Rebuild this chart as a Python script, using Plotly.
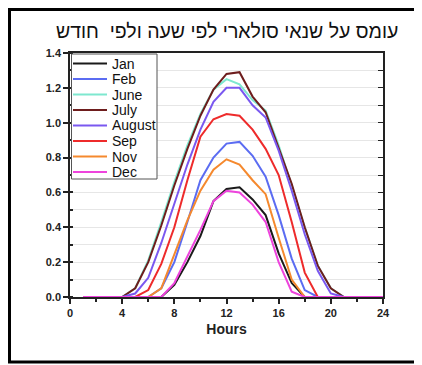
import plotly.graph_objects as go

hours = list(range(1, 25))

jan = [0, 0, 0, 0, 0, 0, 0, 0.07, 0.20, 0.35, 0.55, 0.62, 0.63, 0.56, 0.47, 0.25, 0.08, 0, 0, 0, 0, 0, 0, 0]
feb = [0, 0, 0, 0, 0, 0, 0.05, 0.20, 0.43, 0.67, 0.80, 0.88, 0.89, 0.81, 0.69, 0.47, 0.22, 0.04, 0, 0, 0, 0, 0, 0]
june = [0, 0, 0, 0, 0.05, 0.21, 0.43, 0.66, 0.87, 1.05, 1.19, 1.25, 1.22, 1.13, 1.07, 0.87, 0.64, 0.40, 0.18, 0.05, 0, 0, 0, 0]
july = [0, 0, 0, 0, 0.05, 0.20, 0.41, 0.64, 0.85, 1.04, 1.19, 1.28, 1.29, 1.15, 1.06, 0.86, 0.65, 0.40, 0.18, 0.05, 0, 0, 0, 0]
august = [0, 0, 0, 0, 0.02, 0.11, 0.31, 0.53, 0.76, 0.96, 1.12, 1.20, 1.20, 1.10, 1.03, 0.84, 0.61, 0.36, 0.15, 0.02, 0, 0, 0, 0]
sep = [0, 0, 0, 0, 0, 0.04, 0.19, 0.40, 0.67, 0.92, 1.02, 1.05, 1.04, 0.96, 0.85, 0.70, 0.43, 0.14, 0, 0, 0, 0, 0, 0]
nov = [0, 0, 0, 0, 0, 0, 0.05, 0.24, 0.44, 0.61, 0.73, 0.79, 0.76, 0.67, 0.59, 0.34, 0.10, 0, 0, 0, 0, 0, 0, 0]
dec = [0, 0, 0, 0, 0, 0, 0, 0.08, 0.23, 0.385, 0.55, 0.61, 0.60, 0.53, 0.43, 0.20, 0.03, 0, 0, 0, 0, 0, 0, 0]

series_names = ["Jan", "Feb", "June", "July", "August", "Sep", "Nov", "Dec"]
series_values = [jan, feb, june, july, august, sep, nov, dec]
series_colors = ["#1a1a1a", "#5b6cf2", "#7ee8cf", "#6e1d1d", "#7a58f0", "#ee2b2b", "#f5892e", "#ee44dd"]

title_text = "עומס על שנאי סולארי לפי שעה ולפי  חודש"
x_title = "Hours"
x_ticks = [0, 4, 8, 12, 16, 20, 24]
y_ticks = [0.0, 0.2, 0.4, 0.6, 0.8, 1.0, 1.2, 1.4]

FONT = "Liberation Sans, Arial, sans-serif"
PLOT_W, PLOT_H = 313, 244
ML, MT = 62, 45
FIG_W, FIG_H = 414, 357


def px_x(fx):
    return (fx - ML) / PLOT_W


def px_y(fy):
    return (MT + PLOT_H - fy) / PLOT_H


fig = go.Figure()
for name, vals, col in zip(series_names, series_values, series_colors):
    fig.add_trace(go.Scatter(x=hours, y=vals, mode="lines", name=name,
                             line=dict(color=col, width=2), showlegend=False))

# invisible trace on right axis so it is drawn
fig.add_trace(go.Scatter(x=hours, y=july, yaxis="y2", mode="lines",
                         line=dict(width=0), showlegend=False, hoverinfo="skip"))

tick_font = dict(family=FONT, size=11, color="#222")

fig.update_layout(
    width=FIG_W, height=FIG_H,
    margin=dict(l=ML, r=FIG_W - ML - PLOT_W, t=MT, b=FIG_H - MT - PLOT_H),
    paper_bgcolor="white", plot_bgcolor="white",
    showlegend=False,
    xaxis=dict(range=[0, 24], tickvals=x_ticks, ticktext=["<b>%d</b>" % t for t in x_ticks],
               ticks="outside", ticklen=5, tickwidth=1.5, tickcolor="#222",
               showline=True, linecolor="#222", linewidth=1.5, mirror=True,
               showgrid=False, zeroline=False, tickfont=tick_font,
               minor=dict(dtick=2, ticks="outside", ticklen=3, tickcolor="#222", showgrid=False),
               title=dict(text="<b>" + x_title + "</b>", standoff=6,
                          font=dict(family=FONT, size=14, color="#222"))),
    yaxis=dict(range=[0, 1.4], tickvals=y_ticks, ticktext=["<b>%.1f</b>" % v for v in y_ticks],
               ticks="outside", ticklen=5, tickwidth=1.5, tickcolor="#222",
               showline=True, linecolor="#222", linewidth=1.5, mirror=True,
               showgrid=False, zeroline=False, tickfont=tick_font,
               minor=dict(dtick=0.1, ticks="inside", ticklen=3, tickcolor="#222",
                          showgrid=True, gridcolor="#e6e6e6", gridwidth=1)),
    yaxis2=dict(range=[0, 1.4], overlaying="y", side="right", anchor="x",
                dtick=0.1, ticks="inside", ticklen=5, tickcolor="#222",
                showticklabels=False, showgrid=False, zeroline=False, showline=False),
)

# title annotation (Hebrew overlay)
fig.add_annotation(text=title_text, xref="paper", yref="paper", x=px_x(218.5), y=px_y(23),
                   xanchor="center", yanchor="middle", showarrow=False,
                   font=dict(family=FONT, size=19.5, color="#111"))

# legend box (manual, to match the tight spacing)
fig.add_shape(type="rect", xref="paper", yref="paper",
              x0=px_x(63.5), x1=px_x(149), y0=px_y(171), y1=px_y(46),
              line=dict(color="#555", width=1), fillcolor="white", layer="above")
for i, (name, col) in enumerate(zip(series_names, series_colors)):
    fy = 55.5 + 15.5 * i
    fig.add_shape(type="line", xref="paper", yref="paper",
                  x0=px_x(65), x1=px_x(99), y0=px_y(fy), y1=px_y(fy),
                  line=dict(color=col, width=2), layer="above")
    fig.add_annotation(text=name, xref="paper", yref="paper", x=px_x(101.5), y=px_y(fy),
                       xanchor="left", yanchor="middle", showarrow=False,
                       font=dict(family=FONT, size=14, color="#111"))

# outer frame
fig.add_shape(type="rect", xref="paper", yref="paper",
              x0=px_x(1.5), x1=px_x(440), y0=px_y(354), y1=px_y(1.5),
              line=dict(color="black", width=3), fillcolor="rgba(0,0,0,0)", layer="above")

fig.write_html("out.html")
